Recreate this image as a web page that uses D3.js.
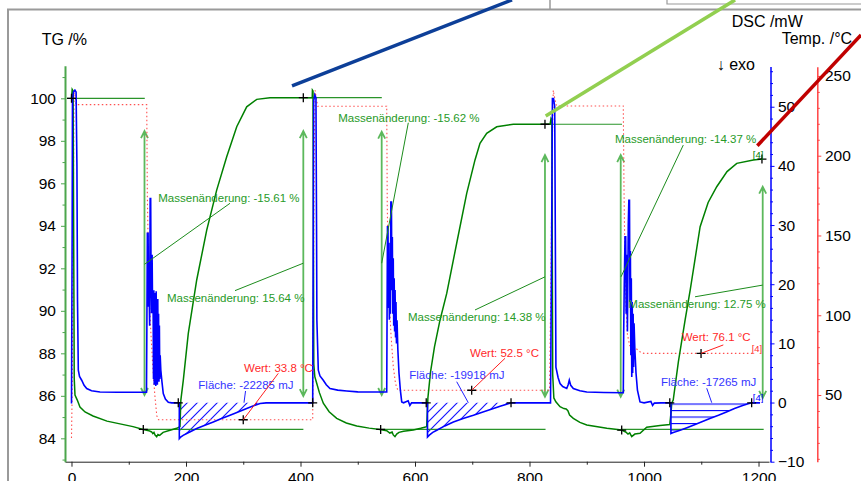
<!DOCTYPE html>
<html>
<head>
<meta charset="utf-8">
<script src="https://cdn.jsdelivr.net/npm/d3@7"></script>
<style>
  body { margin: 0; background: #fff; }
  svg { display: block; font-family: "Liberation Sans", Arial, sans-serif; }
</style>
</head>
<body>
<div id="chart"></div>
<script>
// ---- data (time /min, TG /%, DSC /mW, Temp /°C) ----
const timeTicks = [0, 200, 400, 600, 800, 1000, 1200];
const tgTicks = [84, 86, 88, 90, 92, 94, 96, 98, 100];
const dscTicks = [-10, 0, 10, 20, 30, 40, 50];
const tempTicks = [50, 100, 150, 200, 250];

const tgSeries = [
  [0,100],[1.2,100.42],[2.8,100.35],[4.8,86.8],[6.1,86.04],[10.1,85.8],[14.8,85.47],[23.6,85.24],
  [37.6,85.05],[62,84.81],[107.4,84.55],[125.4,84.42],[135,84.36],[140,84.3],[142,84.22],[144,84.28],
  [146,84.15],[148.8,84.07],[151,84.18],[154,84.14],[160,84.28],[172,84.38],[183.8,84.47],[189.5,84.55],
  [191,85.8],[195.3,86.74],[204,88.94],[218.7,91.45],[236.2,93.8],[253.6,95.68],[271.1,97.25],
  [288.6,98.66],[306,99.6],[323.5,99.95],[346.7,100.03],[420.5,100.03],
  [420.8,100.39],[421.8,100.35],[423.2,87.5],[425,86.9],[428.3,86.59],[433,86.15],[439.8,85.65],
  [450,85.25],[463.2,84.94],[480,84.72],[498.2,84.58],[520,84.48],[539,84.42],[550.6,84.36],[556,84.25],
  [560,84.3],[562,84.16],[565,84.08],[568,84.2],[572,84.28],[580,84.33],[597,84.39],[610,84.47],
  [620.4,84.55],[622.5,85.9],[627,87.1],[634,88.3],[643.7,89.57],[655.4,90.82],[672.8,93.18],
  [690.3,95.53],[704.8,97.1],[713.5,97.88],[725.2,98.35],[742.7,98.66],[771.7,98.78],[836,98.78],
  [837.6,99.06],[839,99.0],[840.5,87],[842.5,85.9],[846,85.72],[853.3,85.49],[860,85.4],[864,85.38],
  [867,85.3],[870,85.1],[876.5,84.94],[888,84.75],[900,84.63],[935,84.47],[961,84.39],[968,84.3],
  [972,84.2],[975,84.26],[978.5,84.08],[984,84.2],[993,84.24],[1004.7,84.52],[1028,84.6],[1045,84.65],
  [1047.5,85.3],[1048.4,85.65],[1051,85.8],[1060,87.6],[1071.8,89.57],[1080.7,90.98],[1098,93.96],
  [1112,95.1],[1127,95.84],[1145,96.55],[1162,96.94],[1191,97.1],[1206,97.14]
];

const dscCycle1 = [
  [0,-0.15],[1.2,30],[1.7,51.1],[3.5,52.5],[6,52.8],[8,52.5],[9.5,40],[10.5,17.3],[11.9,5.46],
  [14,4.4],[17.8,3.77],[22,2.9],[26.6,2.37],[35,2.0],[49.8,1.79],[80,1.75],[131,1.75],
  [131.6,12],[132.5,28.6],[133.8,28.6],[134.6,16.2],[135.5,20],[136.5,13],[137.4,34.5],[138.3,34.5],
  [139,20.7],[140,15.1],[140.8,25],[141.6,16],[142.5,18],[143.2,4],[143.8,19],[144.5,3],[145.2,18.5],
  [145.8,5],[146.5,17],[147.2,2.8],[147.9,18.8],[148.6,4],[149.3,16],[150,3],[150.7,17.5],[151.4,5],
  [152.1,15],[152.8,3.5],[153.5,13],[154.2,4],[154.9,8],[156,5.5],[158,3.5],[160.3,1.5],[164,0.6],
  [169.1,0.05],[175,-0.05],[188.3,-0.05]
];
const dscPeak1 = [
  [188.3,-6.09],[190,-5.9],[195,-5.55],[201.2,-5.24],[210,-4.8],[218.7,-4.4],[233,-3.85],[247.7,-3.28],
  [262,-2.7],[276.9,-2.15],[291,-1.6],[306,-1.01],[318,-0.55],[329.3,-0.17],[340,-0.05]
];
const dscCycle2 = [
  [421.3,-0.05],[422.3,30],[423,51],[425,52],[427,51.5],[428,30],[428.6,13.9],[431.1,5.46],[434,4.5],
  [439.8,3.77],[445,3.0],[451.5,2.37],[465,2.1],[480.7,1.96],[500,1.8],[550.6,1.79],
  [551.2,15],[551.9,29.7],[552.8,29.7],[553.6,16],[554.4,27],[555.2,14],[556,22],[557,15],[557.8,33.9],
  [558.8,33.9],[559.6,19],[560.4,28],[561.2,15],[562,24.4],[562.8,13],[563.6,21],[564.4,12],[565.2,19],
  [566,11],[566.8,17],[567.6,10],[568.6,13.9],[570,9],[572,5],[574.5,2],[576.8,0.1],[580,-0.05],
  [588,0.3],[591,-0.5],[594,-0.05],[621.8,-0.05]
];
const dscPeak2 = [
  [621.8,-5.82],[625,-5.5],[631,-5.05],[638,-4.68],[652,-3.95],[667,-3.28],[684,-2.7],[702,-2.15],
  [720,-1.55],[737,-1.01],[750,-0.6],[760,-0.29],[767.7,-0.05]
];
const dscCycle3 = [
  [836.7,-0.05],[838.5,25],[840,51.4],[842,51.4],[844,50],[845,30],[846.1,6.0],[850,4.2],[853.3,3.21],
  [858,2.7],[865,2.37],[867.5,3.0],[869.5,3.77],[872,2.9],[876.5,2.37],[888,2.0],[900,1.79],[930,1.7],
  [963.8,1.65],[964.5,12],[965.5,20],[966.8,28],[968,28],[968.8,15],[970,25],[971,12],[972.5,30],
  [973.5,34.2],[974.6,34.2],[975.4,17],[976.2,25.6],[977,8],[977.8,21],[978.6,4.3],[979.4,17],[980.2,5],
  [981,15],[981.8,6],[982.6,13.4],[984,9],[986,5],[988.5,2.1],[993,0.1],[1000,-0.05],[1012,0.2],
  [1015,-0.5],[1018,-0.1],[1030,-0.05],[1047,-0.05]
];
const dscPeak3 = [
  [1047,-5.24],[1050,-5.1],[1055,-4.95],[1063,-4.68],[1075,-4.25],[1086,-3.84],[1100,-3.3],[1115,-2.7],
  [1130,-2.15],[1144,-1.59],[1158,-1.0],[1173.5,-0.46],[1182,-0.2],[1188,-0.05]
];
const dscTail = [[1202.6,-0.05]];
const dscBaseline = -0.05;

const tempSeries = [
  [0,23],[1.5,60],[3,160],[4.5,241],[6,238],[8,232],[131.4,232],[132.5,175],[134,140],[136,110],
  [138.5,90],[142,68],[145.5,50],[149,37],[152,34.5],[421.3,34.5],[422.5,110],[424,200],[425.5,241],
  [427.5,236],[430,231],[550.6,231],[551.5,170],[553,135],[555,110],[558,88],[562,68],[566,57],[570,53],
  [835,53],[837,110],[839.5,200],[841.5,241],[844,236],[847,231.2],[963.8,231.2],[965,180],[966.5,140],
  [968.5,105],[971,88],[975,81],[985,79.5],[995,76.5],[1000,76.1],[1193.5,76.1]
];

// step reference lines [t0, t1, TG] and mass change arrows [t, TG top, TG bottom]
const stepLines = [[-8,128,100],[125,405,84.42],[405,542,100.03],[540,828,84.42],[827,961.5,98.78],[959,1209,84.42]];
const stepArrows = [[127.5,98.46,86.04],[404.9,98.46,85.99],[541.8,98.43,86.04],[827,97.33,85.96],[959.3,97.33,85.96],[1207.3,95.84,85.9]];

const tgMarks = [[0,100],[125.4,84.42],[404.9,100.03],[540,84.42],[827,98.78],[961,84.39],[1206,97.14]];
const dscMarks = [[186.5,-0.05],[421.3,-0.05],[619.6,-0.05],[767.7,-0.05],[1045,-0.05],[1188,-0.05]];
const tempMarks = [[300,34.5],[699,53],[1099.6,76.1]];

// annotations: text anchor [t, value] and leader [t0, v0, t1, v1]
const massLabels = [
  {text: 'Massenänderung: -15.61 %', at: [151.6,95.12], leader: [276.9,95.06,127.5,92.19]},
  {text: 'Massenänderung: 15.64 %', at: [166.8,90.41], leader: [285.6,90.95,404.9,92.24]},
  {text: 'Massenänderung: -15.62 %', at: [466,98.9], leader: [588.3,98.85,541.8,92.24]},
  {text: 'Massenänderung: 14.38 %', at: [587.8,89.52], leader: [704.8,90.04,827.1,91.6]},
  {text: 'Massenänderung: -14.37 %', at: [949.3,97.88], leader: [1068.6,97.8,959.8,91.6]},
  {text: 'Massenänderung: 12.75 %', at: [972.6,90.13], leader: [1089.1,90.66,1207.3,91.21]}
];
const areaLabels = [
  {text: 'Fläche: -22285 mJ', at: [221.5,2.24], leader: [304,1.95,301.3,-0.03]},
  {text: 'Fläche: -19918 mJ', at: [590,3.93], leader: [672.8,3.52,693.1,-0.03]},
  {text: 'Fläche: -17265 mJ', at: [1029.7,2.85], leader: [1109.5,2.41,1118.3,-0.03]}
];
const tempLabels = [
  {text: 'Wert: 33.8 °C', at: [301.3,64.6], leader: [361.2,63.6,300.1,34.5]},
  {text: 'Wert: 52.5 °C', at: [696.1,74.0], leader: [757.2,73.0,699,53]},
  {text: 'Wert: 76.1 °C', at: [1065.8,83.9], leader: [1138.5,81.4,1099.6,76.1]}
];

// highlight strokes laid over the chart, in [t, TG] space
const overlayStrokes = [
  {from: [385.2,100.58], to: [769.4,104.63], color: '#0d3f98'},
  {from: [828.3,99.17], to: [1159,104.63], color: '#92cf50'},
  {from: [1197.9,97.77], to: [1379,102.98], color: '#c00000'}
];

class ThermoPlot {
  constructor(_config) {
    this.config = {
      parentElement: _config.parentElement,
      containerWidth: 861,
      containerHeight: 481,
      tgColor: '#008000',
      tgAxisColor: '#4ca64c',
      dscColor: '#0000ff',
      tempColor: '#ff4444',
      fontSize: 15.5
    };
    this.initVis();
  }

  initVis() {
    let vis = this;

    vis.svg = d3.select(vis.config.parentElement).append('svg')
        .attr('width', vis.config.containerWidth)
        .attr('height', vis.config.containerHeight);

    // scales (domains stretched to the drawn axis extent)
    vis.x = d3.scaleLinear().domain([-11.35, 1218.3]).range([65, 769]);
    vis.yTG = d3.scaleLinear().domain([82.9, 101.53]).range([461.7, 65.8]);
    vis.yDSC = d3.scaleLinear().domain([-10, 56.8]).range([461.7, 66.5]);
    vis.yT = d3.scaleLinear().domain([8.2, 255.8]).range([461.7, 66.7]);

    const defs = vis.svg.append('defs');
    defs.append('pattern')
        .attr('id', 'hatch-diag')
        .attr('patternUnits', 'userSpaceOnUse')
        .attr('width', 10).attr('height', 10)
      .append('path')
        .attr('d', 'M-1,1 l2,-2 M0,10 l10,-10 M9,11 l2,-2')
        .attr('fill', 'none')
        .attr('stroke', '#1515ff')
        .attr('stroke-width', 1.2);
    defs.append('pattern')
        .attr('id', 'hatch-horiz')
        .attr('patternUnits', 'userSpaceOnUse')
        .attr('y', 410).attr('width', 10).attr('height', 6.5)
      .append('line')
        .attr('x1', 0).attr('x2', 10).attr('y1', 0.5).attr('y2', 0.5)
        .attr('stroke', vis.config.dscColor)
        .attr('stroke-width', 1.2);

    vis.renderVis();
  }

  styleAxis(g, color) {
    g.attr('font-family', null).attr('font-size', null);
    g.selectAll('line, path').attr('stroke', color);
    g.selectAll('text').attr('fill', '#000').attr('font-size', this.config.fontSize);
  }

  renderVis() {
    let vis = this;
    const c = vis.config;

    // page frame
    const frame = vis.svg.append('g').attr('stroke', '#9a9a9a').attr('fill', 'none');
    frame.append('path').attr('d', 'M8,481 V9.5 H861').attr('stroke-width', 2);
    frame.append('path').attr('d', 'M550,0 V9').attr('stroke-width', 1.5);
    frame.append('path').attr('d', 'M667,0 V4 H861').attr('stroke-width', 1.2);

    // axes
    const xMinor = d3.axisBottom(vis.x).tickValues(d3.range(100, 1201, 200)).tickSize(3).tickFormat('').tickSizeOuter(0);
    const xMajor = d3.axisBottom(vis.x).tickValues(timeTicks).tickSize(5).tickPadding(5)
        .tickFormat(d3.format('d')).tickSizeOuter(0);
    vis.svg.append('g').attr('transform', 'translate(0,461.7)').call(xMinor)
        .call(g => g.select('.domain').remove()).call(g => vis.styleAxis(g, '#222'));
    vis.svg.append('g').attr('transform', 'translate(0,461.7)').call(xMajor)
        .call(g => vis.styleAxis(g, '#222'));

    const tgMinor = d3.axisLeft(vis.yTG).tickValues(d3.range(83, 102, 2)).tickSize(2.5).tickFormat('').tickSizeOuter(0);
    const tgMajor = d3.axisLeft(vis.yTG).tickValues(tgTicks).tickSize(4).tickPadding(5).tickSizeOuter(0);
    vis.svg.append('g').attr('transform', 'translate(65,0)').call(tgMinor)
        .call(g => g.select('.domain').remove()).call(g => vis.styleAxis(g, c.tgAxisColor));
    vis.svg.append('g').attr('transform', 'translate(65,0)').call(tgMajor)
        .call(g => vis.styleAxis(g, c.tgAxisColor))
        .call(g => g.select('.domain').attr('stroke-width', 2));

    const dscMinor = d3.axisRight(vis.yDSC).tickValues(d3.range(-8, 57, 2).filter(v => v % 10 !== 0)).tickSize(2.5).tickFormat('').tickSizeOuter(0);
    const dscMajor = d3.axisRight(vis.yDSC).tickValues(dscTicks).tickSize(4).tickPadding(3.5).tickSizeOuter(0);
    vis.svg.append('g').attr('transform', 'translate(770.5,0)').call(dscMinor)
        .call(g => g.select('.domain').remove()).call(g => vis.styleAxis(g, c.dscColor));
    vis.svg.append('g').attr('transform', 'translate(770.5,0)').call(dscMajor)
        .call(g => vis.styleAxis(g, c.dscColor))
        .call(g => g.select('.domain').attr('stroke-width', 1.5));

    const tMinor = d3.axisRight(vis.yT).tickValues(d3.range(10, 256, 10).filter(v => v % 50 !== 0)).tickSize(2.5).tickFormat('').tickSizeOuter(0);
    const tMajor = d3.axisRight(vis.yT).tickValues(tempTicks).tickSize(4).tickPadding(3.7).tickSizeOuter(0);
    vis.svg.append('g').attr('transform', 'translate(817.3,0)').call(tMinor)
        .call(g => g.select('.domain').remove()).call(g => vis.styleAxis(g, c.tempColor));
    vis.svg.append('g').attr('transform', 'translate(817.3,0)').call(tMajor)
        .call(g => vis.styleAxis(g, c.tempColor))
        .call(g => g.select('.domain').attr('stroke-width', 1.5));

    // axis titles
    const titles = [
      ['TG /%', 41.7, 44.5], ['DSC /mW', 731.7, 26.7], ['Temp. /°C', 781.7, 44.3], ['\u2193 exo', 716.7, 70]
    ];
    vis.svg.append('g').selectAll('text').data(titles).join('text')
        .attr('x', d => d[1]).attr('y', d => d[2])
        .attr('font-size', 16).attr('fill', '#000')
        .text(d => d[0]);

    // integration areas
    const area = d3.area()
        .x(d => vis.x(d[0]))
        .y0(vis.yDSC(dscBaseline))
        .y1(d => vis.yDSC(d[1]));
    [[dscPeak1, 'hatch-diag'], [dscPeak2, 'hatch-diag'], [dscPeak3, 'hatch-horiz']].forEach(([pts, id]) => {
      vis.svg.append('path')
          .attr('d', area(pts))
          .attr('fill', `url(#${id})`);
    });

    // step reference lines and arrows
    vis.svg.append('g').selectAll('line').data(stepLines).join('line')
        .attr('x1', d => vis.x(d[0])).attr('x2', d => vis.x(d[1]))
        .attr('y1', d => vis.yTG(d[2])).attr('y2', d => vis.yTG(d[2]))
        .attr('stroke', '#2a942a').attr('stroke-width', 1.2);

    const arrowG = vis.svg.append('g')
        .attr('stroke', '#5cb85c').attr('stroke-width', 1.8).attr('fill', 'none');
    arrowG.selectAll('path').data(stepArrows).join('path')
        .attr('d', d => {
          const ax = vis.x(d[0]), yt = vis.yTG(d[1]), yb = vis.yTG(d[2]);
          return `M${ax},${yt}V${yb}` +
            `M${ax - 3.5},${yt + 7}L${ax},${yt}L${ax + 3.5},${yt + 7}` +
            `M${ax - 3.5},${yb - 7}L${ax},${yb}L${ax + 3.5},${yb - 7}`;
        });

    // curves
    const tempLine = d3.line().x(d => vis.x(d[0])).y(d => vis.yT(d[1]));
    vis.svg.append('path')
        .attr('d', tempLine(tempSeries))
        .attr('fill', 'none')
        .attr('stroke', '#ff5050')
        .attr('stroke-width', 1.1)
        .attr('stroke-dasharray', '1.5,2.5');

    const tgLine = d3.line().x(d => vis.x(d[0])).y(d => vis.yTG(d[1]));
    vis.svg.append('path')
        .attr('d', tgLine(tgSeries))
        .attr('fill', 'none')
        .attr('stroke', c.tgColor)
        .attr('stroke-width', 1.5);

    const dscSeries = [].concat(dscCycle1, dscPeak1, dscCycle2, dscPeak2, dscCycle3, dscPeak3, dscTail);
    const dscLine = d3.line().x(d => vis.x(d[0])).y(d => vis.yDSC(d[1]));
    vis.svg.append('path')
        .attr('d', dscLine(dscSeries))
        .attr('fill', 'none')
        .attr('stroke', c.dscColor)
        .attr('stroke-width', 1.6);

    // cross markers
    const marks = [].concat(
      tgMarks.map(d => [vis.x(d[0]), vis.yTG(d[1])]),
      dscMarks.map(d => [vis.x(d[0]), vis.yDSC(d[1])]),
      tempMarks.map(d => [vis.x(d[0]), vis.yT(d[1])])
    );
    vis.svg.append('g').selectAll('path').data(marks).join('path')
        .attr('d', d => `M${d[0] - 4.5},${d[1]}H${d[0] + 4.5}M${d[0]},${d[1] - 4.5}V${d[1] + 4.5}`)
        .attr('stroke', '#000').attr('stroke-width', 1.3);

    // annotation labels with leader lines
    const drawLabels = (items, yScale, color, lineColor) => {
      const g = vis.svg.append('g');
      g.selectAll('line').data(items).join('line')
          .attr('x1', d => vis.x(d.leader[0])).attr('y1', d => yScale(d.leader[1]))
          .attr('x2', d => vis.x(d.leader[2])).attr('y2', d => yScale(d.leader[3]))
          .attr('stroke', lineColor).attr('stroke-width', 1);
      g.selectAll('text').data(items).join('text')
          .attr('x', d => vis.x(d.at[0])).attr('y', d => yScale(d.at[1]))
          .attr('font-size', 11.5).attr('fill', color)
          .text(d => d.text);
    };
    drawLabels(massLabels, vis.yTG, '#279a27', '#1c8c1c');
    drawLabels(areaLabels, vis.yDSC, '#3535ff', '#2020ff');
    drawLabels(tempLabels, vis.yT, '#ff2a2a', '#ff2020');

    // curve end tags
    const tags = [
      [vis.x(1190), vis.yTG(97.2), c.tgColor],
      [vis.x(1188), vis.yT(77.0), '#ff3030'],
      [vis.x(1190), vis.yDSC(0.3), c.dscColor]
    ];
    vis.svg.append('g').selectAll('text').data(tags).join('text')
        .attr('x', d => d[0]).attr('y', d => d[1])
        .attr('font-size', 9.5).attr('fill', d => d[2])
        .text('[4]');

    // overlay strokes
    vis.svg.append('g').selectAll('line').data(overlayStrokes).join('line')
        .attr('x1', d => vis.x(d.from[0])).attr('y1', d => vis.yTG(d.from[1]))
        .attr('x2', d => vis.x(d.to[0])).attr('y2', d => vis.yTG(d.to[1]))
        .attr('stroke', d => d.color)
        .attr('stroke-width', 3.5);
  }
}

new ThermoPlot({ parentElement: '#chart' });
</script>
</body>
</html>
